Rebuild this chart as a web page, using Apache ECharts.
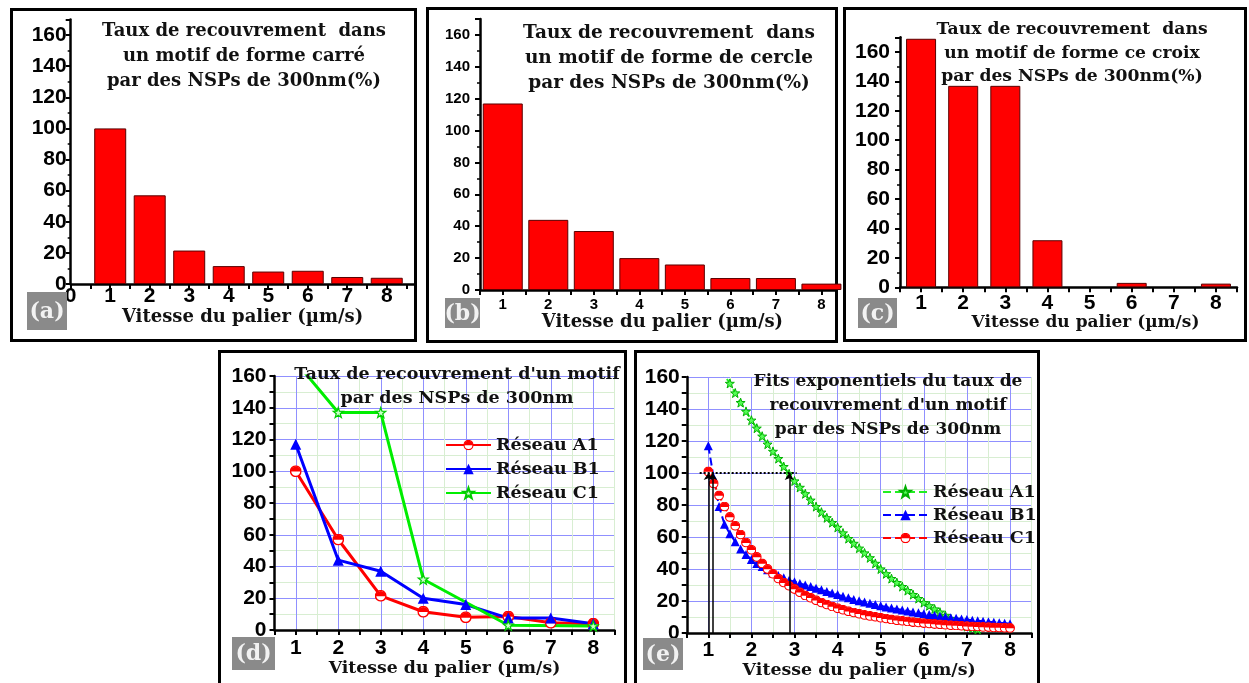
<!DOCTYPE html>
<html><head><meta charset="utf-8">
<script src="https://cdn.jsdelivr.net/npm/echarts@6/dist/echarts.min.js"></script>
<style>
html,body{margin:0;padding:0;width:1249px;height:683px;overflow:hidden;background:#fff;}
.frame{position:absolute;border:3px solid #000;box-sizing:border-box;background:#fff;}
.layer{position:absolute;left:0;top:0;width:1249px;height:683px;}
</style></head><body>
<div class="frame" style="left:10px;top:8px;width:407px;height:334px"></div>
<div class="frame" style="left:426px;top:7px;width:412px;height:336px"></div>
<div class="frame" style="left:843px;top:7px;width:404px;height:335px"></div>
<div class="frame" style="left:218px;top:350px;width:409px;height:345px"></div>
<div class="frame" style="left:634px;top:350px;width:406px;height:345px"></div>
<div id="pa" class="layer"></div>
<div id="pb" class="layer"></div>
<div id="pc" class="layer"></div>
<div id="pd" class="layer"></div>
<div id="pe" class="layer"></div>
<script>
// ---------------- DATA ----------------
const vitesses = [1, 2, 3, 4, 5, 6, 7, 8];
const carreValues = [100, 57, 21.5, 11.5, 8, 8.5, 4.5, 4];
const cercleValues = [117, 44, 37, 20, 16, 7.5, 7.5, 4];
const croixValues = [169, 137, 137, 32, null, 3, null, 2.5];

const titleA = ['Taux de recouvrement  dans', 'un motif de forme carré', 'par des NSPs de 300nm(%)'];
const titleB = ['Taux de recouvrement  dans', 'un motif de forme de cercle', 'par des NSPs de 300nm(%)'];
const titleC = ['Taux de recouvrement  dans', 'un motif de forme ce croix', 'par des NSPs de 300nm(%)'];
const titleD = ["Taux de recouvrement d'un motif", 'par des NSPs de 300nm'];
const titleE = ['Fits exponentiels du taux de', "recouvrement d'un motif", 'par des NSPs de 300nm'];
const xTitle = 'Vitesse du palier (µm/s)';
const seriesNames = ['Réseau A1', 'Réseau B1', 'Réseau C1'];

const fitX = [1,1.125,1.25,1.375,1.5,1.625,1.75,1.875,2,2.125,2.25,2.375,2.5,2.625,2.75,2.875,3,3.125,3.25,3.375,3.5,3.625,3.75,3.875,4,4.125,4.25,4.375,4.5,4.625,4.75,4.875,5,5.125,5.25,5.375,5.5,5.625,5.75,5.875,6,6.125,6.25,6.375,6.5,6.625,6.75,6.875,7,7.125,7.25,7.375,7.5,7.625,7.75,7.875,8];
const fitA1 = [178,172,166.5,161,156,150,144,138.5,133,128,123,118,113.5,109,104,99.5,95,91,87,83,79,75.5,72,69,66,62.5,59,56,53,50,47,43.5,40,37,34,31.5,29,26.5,24,21.5,19,17,15,13,11,9,7,5.5,4,3,2.2,null,null,null,null,null,null];
const fitB1 = [117,97,79,68,62,57,52.5,49,46,43.5,41.5,39.5,37.5,36,34.5,33,32,31,30,29,28,27,26,25,24,23,22,21,20.2,19.4,18.6,17.8,17,16.3,15.6,15,14.4,13.8,13.2,12.6,12,11.5,11,10.5,10,9.6,9.2,8.8,8.4,8,7.6,7.3,7,6.7,6.4,6.1,5.8];
const fitC1 = [101,93.5,86,79,72.5,67,61.5,56.5,52,47.5,43.5,40,37,34,31.5,29.5,27.5,25.5,23.5,22,20.5,19,17.8,16.6,15.5,14.5,13.6,12.8,12,11.3,10.7,10.1,9.5,9,8.5,8,7.6,7.2,6.8,6.5,6.2,5.9,5.6,5.4,5.1,4.9,4.7,4.5,4.3,4.1,4,3.8,3.7,3.5,3.4,3.3,3.2];
const seuil = 100;
const seuilRange = [0.8, 3.05];
const seuilCrossX = [1, 1.1, 2.88];

// ---------------- HELPERS ----------------
const SERIF = '"DejaVu Serif", serif';
const SANS = '"Liberation Sans", Arial, sans-serif';
const MAJOR = '#9090ff';
const MINOR = '#d8eed2';
const HALF_SVG = "<svg xmlns='http://www.w3.org/2000/svg' width='40' height='40' viewBox='0 0 20 20'>" +
  "<circle cx='10' cy='10' r='8.7' fill='#ffffff' stroke='#ff0000' stroke-width='2.4'/>" +
  "<path d='M1.3,10.6 A8.7,8.7 0 0 1 18.7,10.6 Z' fill='#ff0000'/></svg>";
const HALF = 'image://data:image/svg+xml;charset=utf-8,' + encodeURIComponent(HALF_SVG);
const STAR = 'path://M10,0L12.35,6.76L19.51,6.91L13.8,11.24L15.88,18.09L10,14L4.12,18.09L6.2,11.24L0.49,6.91L7.65,6.76Z';

function pairs(xs, ys) {
  return xs.map((x, i) => [x, ys[i]]).filter(p => p[1] !== null && p[1] !== undefined);
}
function titleEl(lines, cx, top, size, lh) {
  return {type: 'text', x: cx, y: top, z: 100,
    style: {text: lines.join('\n'), fontFamily: SERIF, fontWeight: 'bold', fontSize: size, fill: '#111',
      align: 'center', verticalAlign: 'top', textAlign: 'center', textVerticalAlign: 'top', lineHeight: lh}};
}
function tagEls(label, x, y, w, h) {
  return [
    {type: 'rect', z: 100, shape: {x: x, y: y, width: w, height: h}, style: {fill: '#8a8a8a'}},
    {type: 'text', z: 101, x: x + w / 2, y: y + h / 2 + 1,
      style: {text: label, fontFamily: SERIF, fontWeight: 'bold', fontSize: 22, fill: '#f2f2f2',
        align: 'center', verticalAlign: 'middle', textAlign: 'center', textVerticalAlign: 'middle'}}
  ];
}
const intFmt = v => (Math.abs(v - Math.round(v)) < 1e-6 ? String(Math.round(v)) : '');
const twentyFmt = v => (Math.abs(v % 20) < 1e-6 ? String(v) : '');

function xAxisOpt(min, max, fs, margin, nameGap, nameSize, grid, namePad) {
  return {
    type: 'value', min: min, max: max, interval: 0.5,
    name: xTitle, nameLocation: 'middle', nameGap: nameGap,
    nameTextStyle: {fontFamily: SERIF, fontWeight: 'bold', fontSize: nameSize, color: '#111', padding: namePad || 0},
    axisLine: {show: true, onZero: false, lineStyle: {color: '#000', width: 2.5}},
    axisTick: {show: true, length: 5, lineStyle: {color: '#000', width: 2}},
    axisLabel: {show: true, fontFamily: SANS, fontWeight: 'bold', fontSize: fs, color: '#000', margin: margin, formatter: intFmt},
    splitLine: grid ? {show: true, showMaxLine: true, lineStyle: {color: [MINOR, MAJOR], width: 1}} : {show: false}
  };
}
function yBarOpt(fs, margin) {
  return {
    type: 'value', min: 0, max: 170, interval: 20,
    axisLine: {show: true, lineStyle: {color: '#000', width: 2.5}},
    axisTick: {show: true, length: 5, lineStyle: {color: '#000', width: 2}},
    minorTick: {show: true, splitNumber: 2, length: 3, lineStyle: {color: '#000', width: 1.5}},
    splitLine: {show: false},
    axisLabel: {fontFamily: SANS, fontWeight: 'bold', fontSize: fs, color: '#000', margin: margin, formatter: twentyFmt}
  };
}
function yLineOpt(margin) {
  return {
    type: 'value', min: 0, max: 160, interval: 10,
    axisLine: {show: true, lineStyle: {color: '#000', width: 2.5}},
    axisTick: {show: true, length: 5, lineStyle: {color: '#000', width: 2}},
    splitLine: {show: true, showMaxLine: true, lineStyle: {color: [MAJOR, MINOR], width: 1}},
    axisLabel: {fontFamily: SANS, fontWeight: 'bold', fontSize: 21, color: '#000', margin: margin, formatter: twentyFmt}
  };
}
function barSeries(vals, w) {
  return {type: 'bar', data: pairs(vitesses, vals), barWidth: w, clip: true,
    itemStyle: {color: '#ff0000', borderColor: '#5a0000', borderWidth: 1}};
}
function gridOpt(l, t, w, h) {
  return {left: l, top: t, width: w, height: h, containLabel: false, outerBoundsMode: 'none'};
}
function legendOpt(l, t, gap) {
  return {orient: 'vertical', left: l, top: t, itemWidth: 45, itemHeight: 13, itemGap: gap, selectedMode: false,
    textStyle: {fontFamily: SERIF, fontWeight: 'bold', fontSize: 17.5, color: '#111', lineHeight: 20}};
}
function mk(id, opt) {
  const c = echarts.init(document.getElementById(id), null, {renderer: 'canvas', width: 1249, height: 683});
  opt.animation = false;
  c.setOption(opt);
}

// ---------------- (a) ----------------
mk('pa', {
  grid: gridOpt(70.7, 19.5, 343.7, 264.5),
  xAxis: xAxisOpt(0, 8.7, 21, 2, 23, 18),
  yAxis: yBarOpt(21, 4),
  series: [barSeries(carreValues, 32)],
  graphic: [titleEl(titleA, 244, 19, 18, 25)].concat(tagEls('(a)', 27, 292, 40, 38))
});
// ---------------- (b) ----------------
mk('pb', {
  grid: gridOpt(480, 19, 356, 271),
  xAxis: xAxisOpt(0.5, 8.32, 15, 7, 15, 18, false, [0, 0, 0, 9]),
  yAxis: yBarOpt(15, 10),
  series: [barSeries(cercleValues, 40)],
  graphic: [titleEl(titleB, 669, 20.5, 18.5, 25)].concat(tagEls('(b)', 445, 298, 35, 30))
});
// ---------------- (c) ----------------
mk('pc', {
  grid: gridOpt(900, 37.3, 337, 250),
  xAxis: xAxisOpt(0.5, 8.5, 21, 5, 20, 17, false, [0, 0, 0, 34]),
  yAxis: yBarOpt(21, 10),
  series: [barSeries(croixValues, 30)],
  graphic: [titleEl(titleC, 1072, 17.5, 17.2, 23.7)].concat(tagEls('(c)', 858, 298, 39, 30))
});
// ---------------- (d) ----------------
mk('pd', {
  grid: gridOpt(274.5, 376, 340, 254),
  xAxis: xAxisOpt(0.5, 8.5, 21, 8, 25, 17.3, true),
  yAxis: yLineOpt(8),
  legend: Object.assign(legendOpt(440, 430, 4), {data: seriesNames}),
  series: [
    {type: 'line', name: seriesNames[0], data: pairs(vitesses, carreValues), clip: true,
      symbol: HALF, symbolSize: 12, lineStyle: {color: '#ff0000', width: 3},
      itemStyle: {color: '#ff0000'}},
    {type: 'line', name: seriesNames[1], data: pairs(vitesses, cercleValues), clip: true,
      symbol: 'triangle', symbolSize: 11, lineStyle: {color: '#0000ff', width: 3}, itemStyle: {color: '#0000ff'}},
    {type: 'line', name: seriesNames[2], data: pairs(vitesses, croixValues), clip: true,
      symbol: STAR, symbolSize: 10, lineStyle: {color: '#00ee00', width: 3},
      itemStyle: {color: '#c8ffc8', borderColor: '#00cc00', borderWidth: 1.2}}
  ],
  graphic: [titleEl(titleD, 457, 363, 17.5, 23.5)].concat(tagEls('(d)', 232, 637, 43, 33))
});
// ---------------- (e) ----------------
const arrowLines = seuilCrossX.map(x => [
  {coord: [x, 0], symbol: 'none', lineStyle: {type: 'solid', width: 1.5, color: '#000'}},
  {coord: [x, seuil], symbol: 'arrow'}
]);
mk('pe', {
  grid: gridOpt(686.75, 377, 344.8, 256),
  xAxis: xAxisOpt(0.5, 8.5, 21, 7, 25, 17.4, true),
  yAxis: yLineOpt(7),
  legend: Object.assign(legendOpt(877, 477, 3), {data: seriesNames}),
  series: [
    {type: 'line', name: seriesNames[0], data: pairs(fitX, fitA1), clip: true,
      symbol: STAR, symbolSize: 9, lineStyle: {color: '#22ee22', width: 2, type: 'dashed'},
      itemStyle: {color: '#55ff55', borderColor: '#00b000', borderWidth: 1},
      markLine: {silent: true, symbolSize: 7, label: {show: false}, animation: false, z: 10,
        data: [
          [{coord: [seuilRange[0], seuil], symbol: 'none', lineStyle: {type: 'dotted', width: 2, color: '#000'}},
           {coord: [seuilRange[1], seuil], symbol: 'none'}]
        ].concat(arrowLines)}},
    {type: 'line', name: seriesNames[1], data: pairs(fitX, fitB1), clip: true,
      symbol: 'triangle', symbolSize: 9, lineStyle: {color: '#0000ff', width: 2, type: 'dashed'}, itemStyle: {color: '#0000ff'}},
    {type: 'line', name: seriesNames[2], data: pairs(fitX, fitC1), clip: true,
      symbol: HALF, symbolSize: 10, lineStyle: {color: '#ff0000', width: 2, type: 'dashed'},
      itemStyle: {color: '#ff0000'}}
  ],
  graphic: [titleEl(titleE, 888, 369.7, 17, 24)].concat(tagEls('(e)', 643, 638, 40, 32))
});
</script>
</body></html>
